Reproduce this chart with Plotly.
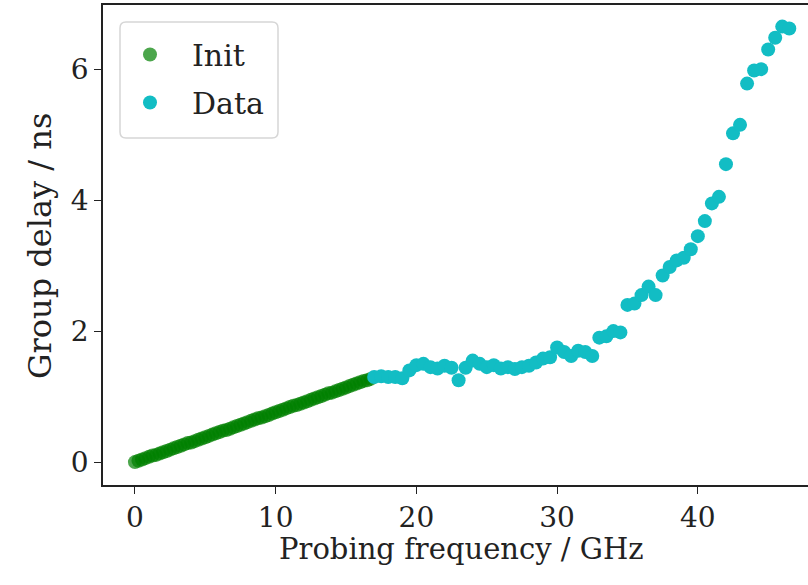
import plotly.graph_objects as go

# Init series (probing frequency in GHz, group delay in ns)
init_freq = [0.0, 0.25, 0.5, 0.75, 1.0, 1.25, 1.5, 1.75, 2.0, 2.25, 2.5, 2.75, 3.0, 3.25, 3.5, 3.75,
             4.0, 4.25, 4.5, 4.75, 5.0, 5.25, 5.5, 5.75, 6.0, 6.25, 6.5, 6.75, 7.0, 7.25, 7.5, 7.75,
             8.0, 8.25, 8.5, 8.75, 9.0, 9.25, 9.5, 9.75, 10.0, 10.25, 10.5, 10.75, 11.0, 11.25, 11.5, 11.75,
             12.0, 12.25, 12.5, 12.75, 13.0, 13.25, 13.5, 13.75, 14.0, 14.25, 14.5, 14.75, 15.0, 15.25,
             15.5, 15.75, 16.0, 16.25, 16.5, 16.75]
init_delay = [0.00, 0.02, 0.04, 0.06, 0.08, 0.10, 0.11, 0.13, 0.15, 0.17, 0.19, 0.21, 0.23, 0.25, 0.27, 0.29,
              0.30, 0.32, 0.34, 0.36, 0.38, 0.40, 0.42, 0.44, 0.46, 0.48, 0.49, 0.51, 0.53, 0.55, 0.57, 0.59,
              0.61, 0.63, 0.65, 0.67, 0.68, 0.70, 0.72, 0.74, 0.76, 0.78, 0.80, 0.82, 0.84, 0.86, 0.87, 0.89,
              0.91, 0.93, 0.95, 0.97, 0.99, 1.01, 1.03, 1.05, 1.06, 1.08, 1.10, 1.12, 1.14, 1.16,
              1.18, 1.20, 1.22, 1.24, 1.25, 1.27]

# Measured data series
data_freq = [17.0, 17.5, 18.0, 18.5, 19.0, 19.5, 20.0, 20.5, 21.0, 21.5, 22.0, 22.5, 23.0, 23.5,
             24.0, 24.5, 25.0, 25.5, 26.0, 26.5, 27.0, 27.5, 28.0, 28.5, 29.0, 29.5, 30.0, 30.5,
             31.0, 31.5, 32.0, 32.5, 33.0, 33.5, 34.0, 34.5, 35.0, 35.5, 36.0, 36.5, 37.0, 37.5,
             38.0, 38.5, 39.0, 39.5, 40.0, 40.5, 41.0, 41.5, 42.0, 42.5, 43.0, 43.5, 44.0, 44.5,
             45.0, 45.5, 46.0, 46.5]
data_delay = [1.30, 1.31, 1.30, 1.30, 1.28, 1.40, 1.48, 1.50, 1.45, 1.43, 1.47, 1.44, 1.25, 1.44,
              1.55, 1.50, 1.45, 1.48, 1.43, 1.45, 1.42, 1.45, 1.47, 1.52, 1.58, 1.60, 1.75, 1.68,
              1.62, 1.70, 1.68, 1.62, 1.90, 1.92, 2.00, 1.98, 2.40, 2.42, 2.55, 2.68, 2.55, 2.85,
              2.98, 3.08, 3.12, 3.25, 3.45, 3.68, 3.95, 4.05, 4.55, 5.02, 5.15, 5.78, 5.98, 6.00,
              6.30, 6.48, 6.65, 6.62]

x_ticks = [0, 10, 20, 30, 40]
y_ticks = [0, 2, 4, 6]
x_title = "Probing frequency / GHz"
y_title = "Group delay / ns"

FONT = "DejaVu Serif"
FS_TICK = 28
FS_XTITLE = 29
FS_YTITLE = 32
FS_LEG = 30

fig = go.Figure()
fig.add_trace(go.Scatter(
    x=init_freq, y=init_delay, mode="markers", name="Init",
    marker=dict(color="rgba(0,128,0,0.7)", size=14, line=dict(width=0)),
    legendgroup="a",
))
fig.add_trace(go.Scatter(
    x=data_freq, y=data_delay, mode="markers", name="Data",
    marker=dict(color="#12bdc4", size=14, line=dict(width=0)),
    legendgroup="b",
))

axis_common = dict(
    showgrid=False, zeroline=False, showline=True, linecolor="#222", linewidth=1.6,
    ticks="outside", ticklen=7, tickwidth=1.3, tickcolor="#222",
    tickfont=dict(family=FONT, size=FS_TICK, color="#222"),
)

# plot-area size in pixels (for paper-coordinate placement)
pw, ph = 705.0, 480.0
bx0, bx1 = (120 - 103) / pw, (278 - 103) / pw
by1, by0 = 1 - (22 - 5) / ph, 1 - (138 - 5) / ph
rx, ry = 6 / pw, 6 / ph
box_path = (
    f"M {bx0+rx},{by1} L {bx1-rx},{by1} Q {bx1},{by1} {bx1},{by1-ry} "
    f"L {bx1},{by0+ry} Q {bx1},{by0} {bx1-rx},{by0} "
    f"L {bx0+rx},{by0} Q {bx0},{by0} {bx0},{by0+ry} "
    f"L {bx0},{by1-ry} Q {bx0},{by1} {bx0+rx},{by1} Z"
)

fig.update_layout(
    width=808, height=585,
    margin=dict(l=103, r=0, t=5, b=100),
    paper_bgcolor="white", plot_bgcolor="white",
    font=dict(family=FONT, size=FS_TICK, color="#222"),
    xaxis=dict(range=[-2.27, 47.83], tickvals=x_ticks, mirror=True, **axis_common),
    yaxis=dict(range=[-0.35, 6.98], tickvals=y_ticks, **axis_common),
    shapes=[dict(type="path", xref="paper", yref="paper", path=box_path,
                 fillcolor="rgba(255,255,255,0.8)", line=dict(color="#d6d6d6", width=1.5),
                 layer="above")],
    annotations=[
        dict(text=x_title, xref="paper", yref="paper", x=(462 - 103) / pw, y=(485 - 549) / ph,
             xanchor="center", yanchor="middle", showarrow=False,
             font=dict(family=FONT, size=FS_XTITLE, color="#222")),
        dict(text=y_title, xref="paper", yref="paper", x=(40 - 103) / pw, y=(485 - 246) / ph,
             xanchor="center", yanchor="middle", showarrow=False, textangle=-90,
             font=dict(family=FONT, size=FS_YTITLE, color="#222")),
    ],
    legend=dict(x=(108 - 103) / pw, y=1 - (28.5 - 5) / ph, xanchor="left", yanchor="top",
                bgcolor="rgba(0,0,0,0)", borderwidth=0,
                font=dict(family=FONT, size=FS_LEG, color="#222"),
                tracegroupgap=6, traceorder="grouped",
                itemwidth=74),
    showlegend=True,
)

fig.write_html("out.html")
